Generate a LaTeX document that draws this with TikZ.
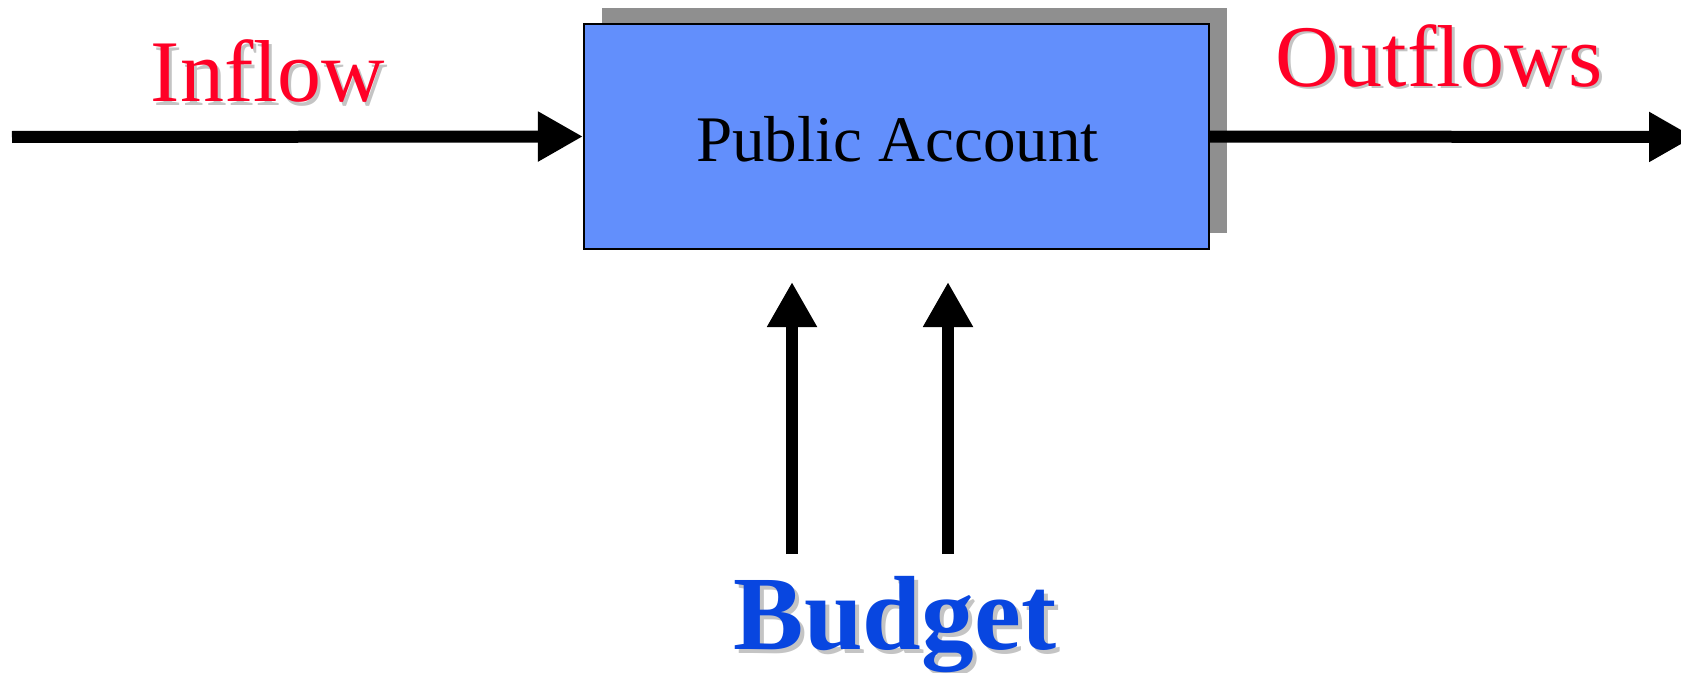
\documentclass[tikz,border=0pt]{standalone}
\usepackage{fontspec}
\setmainfont{Liberation Serif}
\usetikzlibrary{arrows.meta,shadows}
\definecolor{flowred}{HTML}{FF0026}
\definecolor{budgetblue}{HTML}{0846E0}
\definecolor{acctblue}{HTML}{628FFC}
\definecolor{boxshade}{HTML}{8F8F8F}
\definecolor{txtshade}{HTML}{C4C4C4}
\begin{document}
\begin{tikzpicture}[
    flow/.style={line width=0.12cm,-{Triangle[length=0.45cm,width=0.47cm]}},
    acctbox/.style={draw=black,line width=0.6pt,fill=acctblue,minimum width=6.25cm,minimum height=2.25cm,inner sep=0pt,
        general shadow={fill=boxshade,shadow xshift=0.18cm,shadow yshift=0.16cm}},
    flowlbl/.style={anchor=base,inner sep=0pt,font=\fontsize{25}{30}\selectfont},
    budgetlbl/.style={anchor=base,inner sep=0pt,font=\fontsize{30}{36}\selectfont\bfseries}
  ]
  \clip (0,0) rectangle (16.81,6.72);
  \node[acctbox] (acct) at (8.965,5.355) {};
  \node[anchor=base,inner sep=0pt,font=\fontsize{18.5}{22}\selectfont] (acctlbl) at (8.975,5.11) {Public Account};
  % libelles avec ombre
  \node[flowlbl,text=txtshade] at (2.71,5.67) {Inflow};
  \node[flowlbl,text=flowred] (inflow) at (2.68,5.70) {Inflow};
  \node[flowlbl,text=txtshade] at (14.42,5.83) {Outflows};
  \node[flowlbl,text=flowred] (outflows) at (14.39,5.86) {Outflows};
  \node[budgetlbl,text=txtshade] at (8.99,0.19) {Budget};
  \node[budgetlbl,text=budgetblue] (budget) at (8.95,0.23) {Budget};
  % fleches
  \coordinate (instart) at (0.12,5.35);
  \coordinate (outend) at (16.94,5.35);
  \coordinate (budgetA) at (7.92,1.18);
  \coordinate (budgetB) at (9.48,1.18);
  \coordinate (tipA) at (7.92,3.90);
  \coordinate (tipB) at (9.48,3.90);
  \draw[flow] (instart) -- (acct.west);
  \draw[flow] (acct.east) -- (outend);
  \draw[flow] (budgetA) -- (tipA);
  \draw[flow] (budgetB) -- (tipB);
\end{tikzpicture}
\end{document}
